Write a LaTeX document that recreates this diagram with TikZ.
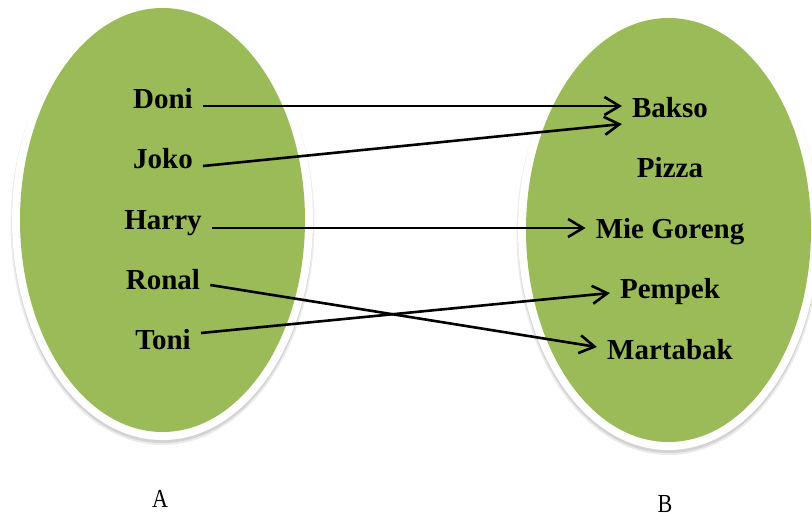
\documentclass[tikz,border=0pt]{standalone}
\usepackage{fontspec}
\setmainfont{Liberation Serif}
\usetikzlibrary{arrows.meta}
\definecolor{hijau}{HTML}{9BBB59}

\begin{document}
\begin{tikzpicture}[x=1pt,y=-1pt,>={Straight Barb[length=15pt,width=18pt]},
  anggota/.style={anchor=base,inner xsep=10pt,inner ysep=0pt,
    font=\fontsize{29}{34}\selectfont\bfseries},
  panah/.style={->,line width=2.6pt},
  judul/.style={anchor=base,inner sep=0pt,xscale=0.85,
    font=\fontsize{26}{30}\selectfont}]
  % Ukuran gambar
  \useasboundingbox (0,0) rectangle (812,512);

  % Himpunan A dan B (bayangan, tepi putih, isi hijau)
  \foreach \cx/\cy in {162.5/220,668.5/230}{
    \fill[black,opacity=0.08] (\cx,\cy+4) ellipse (152 and 221);
    \fill[black,opacity=0.10] (\cx,\cy+3) ellipse (150.5 and 220);
    \fill[white] (\cx,\cy) ellipse (150.5 and 220);
    \fill[hijau] (\cx,\cy) ellipse (142.5 and 212);
  }

  % Anggota A
  \node[anggota] (doni)  at (163,108) {Doni};
  \node[anggota] (joko)  at (163,168) {Joko};
  \node[anggota] (harry) at (163,229) {Harry};
  \node[anggota] (ronal) at (163,289) {Ronal};
  \node[anggota] (toni)  at (163,349) {Toni};

  % Anggota B
  \node[anggota] (bakso)    at (670,117) {Bakso};
  \node[anggota] (pizza)    at (670,177) {Pizza};
  \node[anggota] (mie)      at (670,238) {Mie Goreng};
  \node[anggota] (pempek)   at (670,298) {Pempek};
  \node[anggota] (martabak) at (670,359) {Martabak};

  % Relasi
  \draw[panah] ([yshift=2pt]doni.base east)  -- ([yshift=11pt]bakso.base west);
  \draw[panah] ([yshift=2pt]joko.base east)  -- ([yshift=-7pt]bakso.base west);
  \draw[panah] ([yshift=1pt]harry.base east) -- ([yshift=10pt]mie.base west);
  \draw[panah] ([yshift=4pt]ronal.base east) -- ([yshift=12pt]martabak.base west);
  \draw[panah] ([yshift=16pt]toni.base east) -- ([yshift=5pt]pempek.base west);

  % Nama himpunan
  \node[judul] (A) at (160,507) {A};
  \node[judul] (B) at (665,512) {B};
\end{tikzpicture}
\end{document}
